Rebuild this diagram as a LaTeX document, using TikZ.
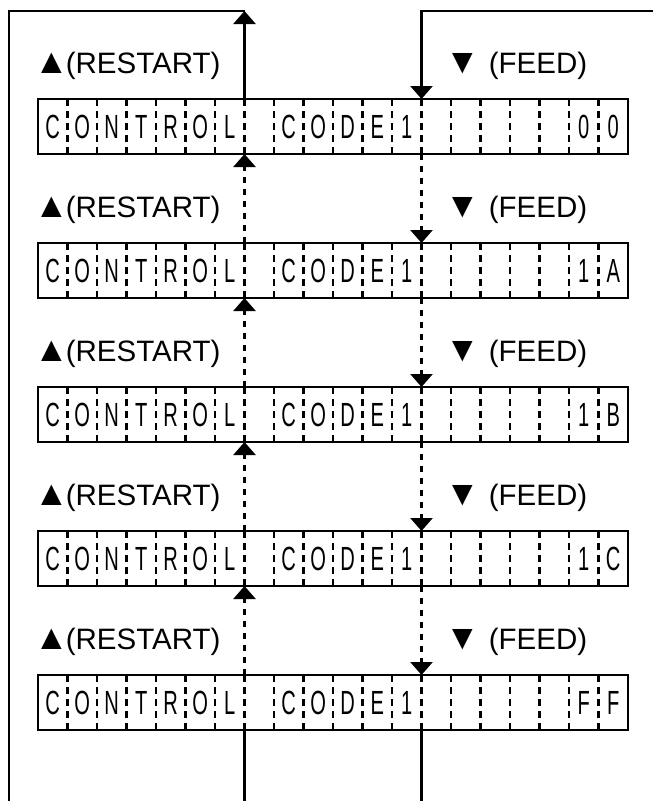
\documentclass[tikz,border=0pt]{standalone}
\usepackage{fontspec}
\setmainfont{Liberation Sans}
\newfontfamily\cellfont[FakeStretch=0.6]{Liberation Sans}
\usetikzlibrary{arrows.meta}
\newcommand{\symtri}[1]{{\fontsize{35}{35}\selectfont #1}}
\begin{document}
\begin{tikzpicture}[x=1pt,y=-1pt,
  line/.style={line width=2.6pt},
  boxframe/.style={draw, line width=2.6pt, rectangle, minimum width=590pt, minimum height=55pt, inner sep=0pt},
  divider/.style={line width=2.2pt, dash pattern=on 7pt off 5pt},
  celltext/.style={font=\cellfont\fontsize{33.5}{34}\selectfont, inner sep=0pt, anchor=base},
  lbl/.style={font=\fontsize{29.5}{31}\selectfont, inner sep=0pt, anchor=base west},
  tip/.style={-{Triangle[width=22pt,length=13pt]}},
  dotline/.style={line width=2.6pt, dash pattern=on 6pt off 6pt},
]
\useasboundingbox (0,0) rectangle (653,801);
\foreach \k/\a/\b in {1/0/0,2/1/A,3/1/B,4/1/C,5/F/F}{
  \pgfmathsetmacro\yc{126.5+144*(\k-1)}
  \pgfmathsetmacro\ly{73+144*(\k-1)}
  \node[boxframe] (box\k) at (333,\yc) {};
  \foreach \ch [count=\i] in {C,O,N,T,R,O,L,{},C,O,D,E,1,{},{},{},{},{},\a,\b}{
    \node[celltext] (c\k-\i) at ({38+29.5*(\i-0.5)},\yc+11.7) {\ch};
  }
  \foreach \i in {1,...,19}{
    \draw[divider] ({38+29.5*\i},\yc-27.5) -- ({38+29.5*\i},\yc);
    \draw[divider] ({38+29.5*\i},\yc+27.5) -- ({38+29.5*\i},\yc);
  }
  \coordinate (rt\k) at (244.5,\yc-27.5);
  \coordinate (rb\k) at (244.5,\yc+27.5);
  \coordinate (ft\k) at (421.5,\yc-27.5);
  \coordinate (fb\k) at (421.5,\yc+27.5);
  \node[lbl] (rs\k) at (34,\ly) {\symtri{▲}\hspace{-3pt}(RESTART)};
  \node[lbl] (fd\k) at (445,\ly) {\symtri{▼}\hspace{9pt}(FEED)};
}
\coordinate (tl) at (9,11);
\coordinate (bl) at (9,801);
\coordinate (ra) at (244.5,11);
\coordinate (fa) at (421.5,11);
\coordinate (tr) at (653,11);
\coordinate (rbot) at (244.5,801);
\coordinate (fbot) at (421.5,801);
\draw[line] (bl) -- (tl) -- (ra);
\draw[line,tip] (rt1) -- (ra);
\draw[line,tip] (tr) -- (fa) -- (ft1);
\foreach \k [evaluate=\k as \n using int(\k+1)] in {1,...,4}{
  \draw[dotline,tip] (rt\n) -- (rb\k);
  \draw[dotline,tip] (fb\k) -- (ft\n);
}
\draw[line] (rb5) -- (rbot);
\draw[line] (fb5) -- (fbot);
\end{tikzpicture}
\end{document}
